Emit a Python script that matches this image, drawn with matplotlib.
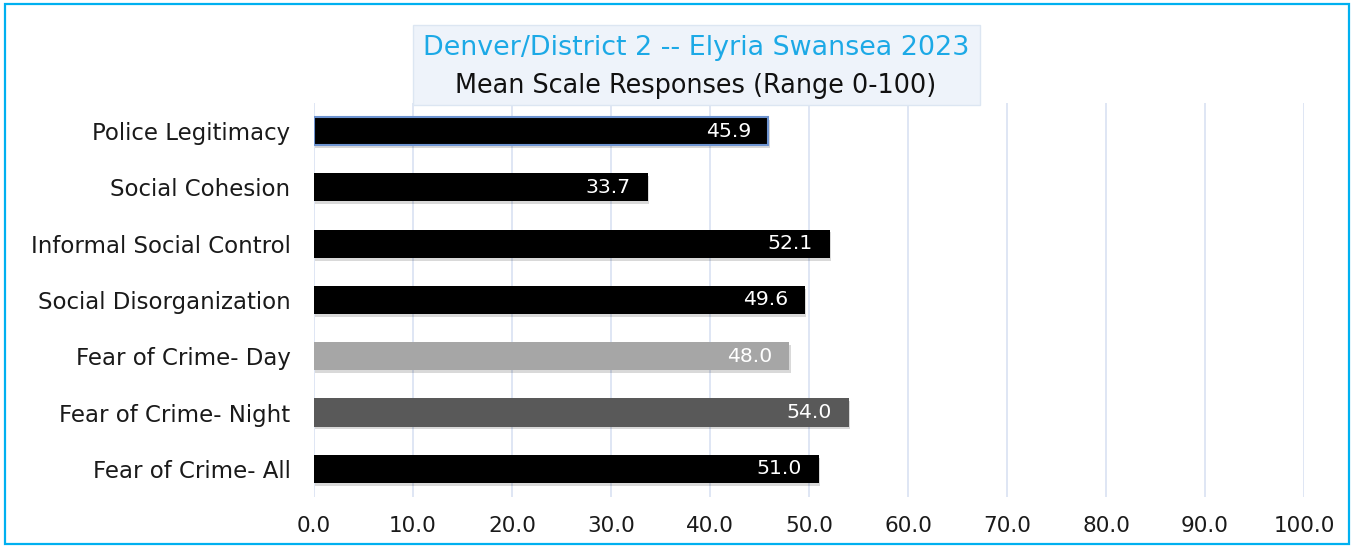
import matplotlib
matplotlib.use("Agg")
import matplotlib.pyplot as plt
import matplotlib.patheffects as pe
from matplotlib.patches import Rectangle

categories = [
    "Police Legitimacy",
    "Social Cohesion",
    "Informal Social Control",
    "Social Disorganization",
    "Fear of Crime- Day",
    "Fear of Crime- Night",
    "Fear of Crime- All",
]
values = [45.9, 33.7, 52.1, 49.6, 48.0, 54.0, 51.0]
bar_colors = ["#000000", "#000000", "#000000", "#000000", "#A6A6A6", "#595959", "#000000"]
x_ticks = [0, 10, 20, 30, 40, 50, 60, 70, 80, 90, 100]

title_main = "Denver/District 2 -- Elyria Swansea 2023"
title_sub = "Mean Scale Responses (Range 0-100)"

plt.rcParams["font.family"] = ["DejaVu Sans"]

fig = plt.figure(figsize=(13.54, 5.48), dpi=100)
ax = fig.add_axes([0.2319, 0.0931, 0.7312, 0.719])

ypos = list(range(len(categories)))
bars = ax.barh(ypos, values, height=0.5, color=bar_colors, zorder=3)
shadow = [pe.SimplePatchShadow(offset=(1, -2), shadow_rgbFace="#000000", alpha=0.15), pe.Normal()]
for b in bars:
    b.set_path_effects(shadow)
bars[0].set_edgecolor("#6D93D0")
bars[0].set_linewidth(1.5)

for y, v in zip(ypos, values):
    ax.text(v - 1.7, y, f"{v:.1f}", color="white", ha="right", va="center",
            fontsize=14.7, zorder=4)

ax.set_ylim(len(categories) - 0.5, -0.5)
ax.set_xlim(0, 100)
ax.set_xticks(x_ticks)
ax.set_xticklabels([f"{t:.1f}" for t in x_ticks], fontsize=15.5, color="#1a1a1a")
ax.set_yticks(ypos)
ax.set_yticklabels(categories, fontsize=16.5, color="#1a1a1a")
ax.tick_params(length=0, pad=17, axis="y")
ax.tick_params(length=0, pad=14, axis="x")
for s in ax.spines.values():
    s.set_visible(False)
ax.grid(axis="x", color="#D9E1F2", lw=1.2, zorder=0)
ax.set_axisbelow(True)

# outer frame
fig.patches.append(Rectangle((0.004, 0.008), 0.992, 0.984, transform=fig.transFigure,
                             fill=False, edgecolor="#00B0F0", lw=1.6))
# title box
fig.patches.append(Rectangle((413 / 1354, 1 - 105 / 548), 567 / 1354, 80 / 548,
                             transform=fig.transFigure, facecolor="#EEF3FA",
                             edgecolor="#DCE6F2", lw=1, zorder=5))
fig.text(696 / 1354, 1 - 48 / 548, title_main, color="#1CA9E6", fontsize=19.4,
         ha="center", va="center", zorder=6)
fig.text(696 / 1354, 1 - 86 / 548, title_sub, color="#111111", fontsize=18.4,
         ha="center", va="center", zorder=6)

fig.savefig("out.png", dpi=100)
